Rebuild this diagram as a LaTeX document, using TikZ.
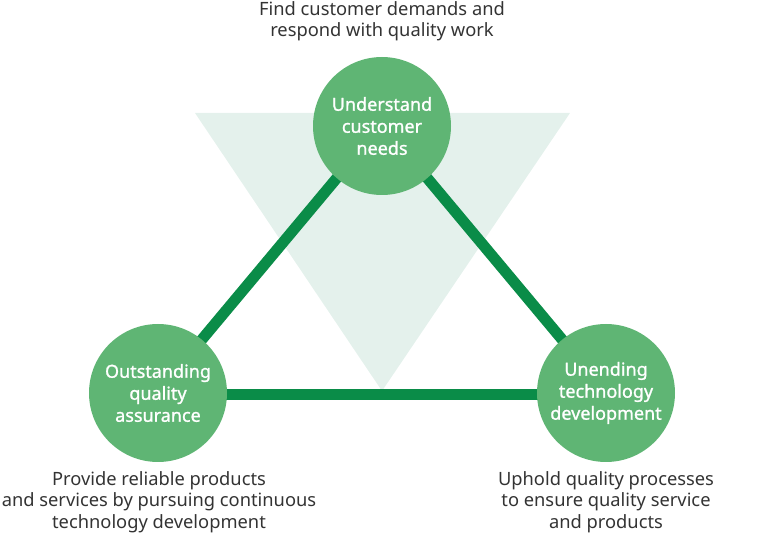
\documentclass[tikz,border=0pt]{standalone}
\usepackage{fontspec}
\setmainfont{Noto Sans}
\newfontfamily\hubfont[FakeBold=1.2]{Noto Sans}
\definecolor{pale}{HTML}{E4F1EC}
\definecolor{circ}{HTML}{5FB574}
\definecolor{bar}{HTML}{0A8C48}
\definecolor{txt}{HTML}{333333}
\begin{document}
\begin{tikzpicture}[x=1pt,y=-1pt,
  hub/.style={circle,fill=circ,minimum size=138pt,inner sep=0pt,text=white,align=center,font=\hubfont\fontsize{18}{22}\selectfont},
  link/.style={draw=bar,line width=11pt},
  note/.style={text=txt,align=center,font=\fontsize{18.3}{21.5}\selectfont}]
\useasboundingbox (0,0) rectangle (764,534);
\fill[pale] (195,113) -- (570,113) -- (382,391) -- cycle;
\coordinate (ct) at (382,124);
\coordinate (cl) at (158,392);
\coordinate (cr) at (606,392);
\coordinate (bl) at (158,395);
\coordinate (br) at (606,395);
\draw[link] (ct) -- (cl);
\draw[link] (ct) -- (cr);
\draw[link] (bl) -- (br);
\node[hub] (top) at (382,126) {Understand\\customer\\needs};
\node[hub] (left) at (158,393) {Outstanding\\quality\\assurance};
\node[hub] (right) at (606,393) {Unending\\technology\\development};
\node[note] (ntop) at (382,21) {Find customer demands and\\respond with quality work};
\node[note] (nleft) at (159,502) {Provide reliable products\\and services by pursuing continuous\\technology development};
\node[note] (nright) at (606,502) {Uphold quality processes\\to ensure quality service\\and products};
\end{tikzpicture}
\end{document}
